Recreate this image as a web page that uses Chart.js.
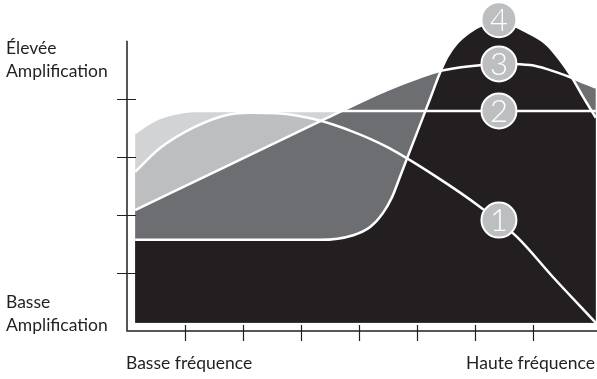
<!DOCTYPE html>
<html lang="fr">
<head>
<meta charset="utf-8">
<script src="https://cdn.jsdelivr.net/npm/chart.js@4.4.1/dist/chart.umd.min.js"></script>
<style>
    body { margin: 0; background: #fff; }
    #wrap { position: relative; width: 597px; height: 379px; overflow: hidden; }
    #chart { position: absolute; left: 0; top: 0; }
    .lbl { position: absolute; font-family: Lato, sans-serif; font-size: 17.5px; color: #231f20; line-height: 23px; white-space: nowrap; }
</style>
</head>
<body>
<div id="wrap">
    <canvas id="chart" width="597" height="379"></canvas>
    <div class="lbl" style="left:6px; top:36px;">Élevée<br>Amplification</div>
    <div class="lbl" style="left:6px; top:290px;">Basse<br>Amplification</div>
    <div class="lbl" style="left:126px; top:351px;">Basse fréquence</div>
    <div class="lbl" style="right:2px; top:351px;">Haute fréquence</div>
</div>
<script>
// Échelle : 1 unité = un intervalle de graduation
const BASE = 0.14; // bas des zones remplies

// Courbe 1
const freq1 = [0.14, 0.57, 1.16, 1.72, 2.12, 2.59, 3.22, 3.9, 4.48, 5.34, 6.08, 6.72, 7.34, 8.08];
const amp1  = [2.74, 3.15, 3.51, 3.72, 3.76, 3.75, 3.65, 3.43, 3.17, 2.65, 2.14, 1.62, 0.93, 0.14];

// Courbe 2
const freq2 = [0.14, 0.34, 0.57, 0.86, 1.15, 4.0, 8.08];
const amp2  = [3.41, 3.55, 3.67, 3.75, 3.79, 3.79, 3.79];

// Courbe 3
const freq3 = [0.14, 1.72, 3.45, 4.48, 5.05, 5.4, 5.91, 6.52, 6.95, 7.24, 7.64, 8.08];
const amp3  = [2.08, 2.84, 3.67, 4.15, 4.37, 4.48, 4.56, 4.6, 4.58, 4.51, 4.37, 4.19];

// Courbe 4
const freq4 = [0.14, 3.33, 3.9, 4.19, 4.41, 4.57, 4.71, 4.88, 5.05, 5.22, 5.4, 5.52, 5.69, 5.91, 6.12, 6.38, 6.64, 6.89, 7.24, 7.46, 7.64, 7.86, 8.08];
const amp4  = [1.57, 1.57, 1.65, 1.79, 2.03, 2.31, 2.67, 3.11, 3.55, 3.99, 4.46, 4.72, 4.96, 5.15, 5.27, 5.32, 5.27, 5.15, 4.93, 4.67, 4.41, 4.03, 3.67];

// Pastilles numérotées
const labelText = ['1', '2', '3', '4'];
const labelFreq = [6.41, 6.41, 6.41, 6.41];
const labelAmp  = [1.91, 3.79, 4.6, 5.36];

// Graduations des axes
const xTicks = [1, 2, 3, 4, 5, 6, 7];
const yTicks = [1, 2, 3, 4];
const X_MAX = 8.1;
const Y_AXIS_TOP = 5;

const INK = '#231f20';

function toPoints(xs, ys) {
    return xs.map((x, i) => ({ x: x, y: ys[i] }));
}

function curve(xs, ys, color) {
    return {
        type: 'line',
        data: toPoints(xs, ys),
        borderColor: '#ffffff',
        borderWidth: 2.5,
        backgroundColor: color,
        fill: { value: BASE },
        pointRadius: 0,
        cubicInterpolationMode: 'monotone'
    };
}

// Axes dessinés à la main (traits qui croisent l'axe)
const axesPlugin = {
    id: 'axes',
    afterDraw(chart) {
        const ctx = chart.ctx;
        const xs = chart.scales.x;
        const ys = chart.scales.y;
        const x0 = xs.getPixelForValue(0);
        const y0 = ys.getPixelForValue(0);
        ctx.save();
        ctx.strokeStyle = INK;
        ctx.lineWidth = 1.5;
        ctx.beginPath();
        ctx.moveTo(x0, ys.getPixelForValue(Y_AXIS_TOP));
        ctx.lineTo(x0, y0);
        ctx.lineTo(xs.getPixelForValue(X_MAX), y0);
        ctx.stroke();
        ctx.lineWidth = 1.2;
        ctx.beginPath();
        yTicks.forEach(v => {
            const py = Math.round(ys.getPixelForValue(v)) + 0.5;
            ctx.moveTo(x0 - 10, py);
            ctx.lineTo(x0 + 9, py);
        });
        xTicks.forEach(v => {
            const px = Math.round(xs.getPixelForValue(v)) + 0.5;
            ctx.moveTo(px, y0 - 6);
            ctx.lineTo(px, y0 + 10);
        });
        ctx.stroke();
        ctx.restore();
    }
};

// Chiffres dans les pastilles
const numbersPlugin = {
    id: 'numbers',
    afterDatasetsDraw(chart) {
        const meta = chart.getDatasetMeta(0);
        const ctx = chart.ctx;
        ctx.save();
        ctx.fillStyle = '#ffffff';
        ctx.font = '300 31px Lato, sans-serif';
        ctx.textAlign = 'center';
        ctx.textBaseline = 'middle';
        meta.data.forEach((pt, i) => {
            ctx.fillText(labelText[i], pt.x, pt.y + 1);
        });
        ctx.restore();
    }
};

const ctx = document.getElementById('chart').getContext('2d');
const myChart = new Chart(ctx, {
    data: {
        datasets: [
            {
                type: 'scatter',
                data: toPoints(labelFreq, labelAmp),
                pointRadius: 17.5,
                pointHoverRadius: 17.5,
                pointBackgroundColor: '#bcbec0',
                pointBorderColor: '#ffffff',
                pointBorderWidth: 2,
                showLine: false,
                clip: false
            },
            curve(freq4, amp4, '#231f20'),
            curve(freq3, amp3, '#6d6e71'),
            curve(freq1, amp1, '#bcbec0'),
            curve(freq2, amp2, '#d1d3d4')
        ]
    },
    options: {
        responsive: false,
        animation: false,
        devicePixelRatio: 1,
        layout: { autoPadding: false, padding: { left: 127, right: 0, top: 0, bottom: 48 } },
        scales: {
            x: { type: 'linear', min: 0, max: X_MAX, display: false },
            y: { type: 'linear', min: 0, max: 5.7, display: false }
        },
        plugins: {
            legend: { display: false },
            tooltip: { enabled: false },
            filler: { drawTime: 'beforeDatasetsDraw' }
        }
    },
    plugins: [axesPlugin, numbersPlugin]
});
</script>
</body>
</html>
